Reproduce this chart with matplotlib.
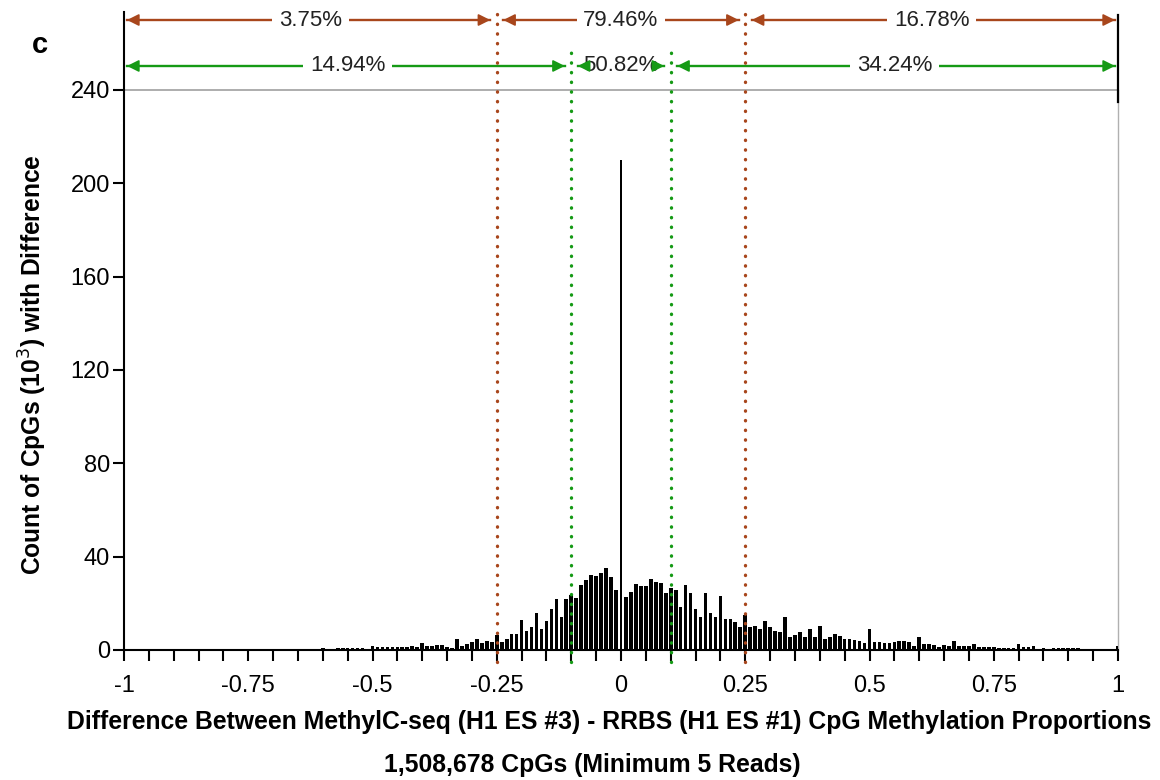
import numpy as np
import matplotlib
matplotlib.use("Agg")
import matplotlib.pyplot as plt

plt.rcParams['font.family'] = ['Liberation Sans', 'DejaVu Sans']

# ---------------- data (counts in thousands, bins centred on multiples of 0.01) -------------
left_tail = [0.3, 0.1, 0.1, 0.1, 0.1, 0.1, 0.1, 0.1, 0.1, 0.1,   # -1.00 .. -0.91
             0.1, 0.1, 0.1, 0.1, 0.1, 0.1, 0.1, 0.1, 0.1, 0.1,   # -0.90 .. -0.81
             0.6, 0.1, 0.1, 0.2, 0.1, 0.2, 0.1, 0.2, 0.2, 0.2,   # -0.80 .. -0.71
             0.2, 0.2, 0.2, 0.5, 0.2, 0.2, 0.2, 0.6, 0.3, 0.3]   # -0.70 .. -0.61
left_mid = [1.0, 0.3, 0.4, 0.9, 0.9, 1.0, 0.9, 1.0, 0.9, 0.6,    # -0.60 .. -0.51
            1.7, 1.2, 1.4, 1.3, 1.4, 1.2, 1.5, 1.3, 1.6, 1.5,    # -0.50 .. -0.41
            3.1, 1.9, 1.8, 2.1, 2.2, 1.4, 1.0, 4.6, 1.7, 2.6,    # -0.40 .. -0.31
            3.4, 4.6, 3.1, 4.0, 3.4, 6.4, 3.5, 4.9, 6.9, 6.9]    # -0.30 .. -0.21
center = [12.8, 8.3, 9.7, 15.7, 9.0, 12.6, 17.7, 22.0, 14.0, 22.0,   # -0.20 .. -0.11
          23.6, 22.1, 28.0, 30.0, 32.3, 31.7, 32.9, 35.1, 31.4, 25.7,  # -0.10 .. -0.01
          210.0,                                                        # 0.00
          22.9, 25.0, 28.1, 27.4, 27.4, 30.3, 29.3, 28.6, 24.3, 26.4,  # 0.01 .. 0.10
          25.7, 18.6, 28.0, 24.3, 17.7, 14.0, 24.3, 15.7, 14.3, 23.1]  # 0.11 .. 0.20
right_mid = [13.3, 13.3, 11.9, 9.7, 14.8, 9.7, 10.3, 8.9, 12.6, 9.7,  # 0.21 .. 0.30
             8.3, 7.6, 14.0, 5.4, 6.6, 7.6, 5.4, 9.0, 5.4, 10.4,      # 0.31 .. 0.40
             4.8, 5.4, 6.9, 6.1, 4.7, 4.6, 4.5, 3.8, 3.1, 9.0,        # 0.41 .. 0.50
             3.6, 3.6, 3.1, 3.2, 3.3, 4.0, 3.8, 3.3, 1.8, 5.4]        # 0.51 .. 0.60
right_tail = [2.7, 2.6, 2.2, 1.5, 2.0, 1.9, 3.8, 1.7, 1.7, 1.7,       # 0.61 .. 0.70
              2.4, 1.4, 1.4, 1.1, 1.1, 1.0, 1.0, 1.0, 0.8, 2.4,       # 0.71 .. 0.80
              1.4, 1.4, 1.7, 0.3, 1.0, 0.5, 1.0, 1.0, 1.0, 1.0,       # 0.81 .. 0.90
              1.0, 1.0, 0.2, 0.2, 0.2, 0.2, 0.2, 0.2, 0.2, 1.7]       # 0.91 .. 1.00

counts = np.array(left_tail + left_mid + center + right_mid + right_tail)
diffs = np.round(np.linspace(-1, 1, len(counts)), 2)

# cut-off regions and their shares
outer_cuts = [-0.25, 0.25]
outer_pct = ["3.75%", "79.46%", "16.78%"]
inner_cuts = [-0.1, 0.1]
inner_pct = ["14.94%", "50.82%", "34.24%"]

x_ticklabels = ["-1", "-0.75", "-0.5", "-0.25", "0", "0.25", "0.5", "0.75", "1"]
y_ticks = [0, 40, 80, 120, 160, 200, 240]

BROWN = '#a8461c'
GREEN = '#159a15'

# ---------------- figure ----------------
W, H = 1160, 780
fig = plt.figure(figsize=(W / 100, H / 100), dpi=100)
ax = fig.add_axes([124 / W, (H - 650) / H, (1118 - 124) / W, 640 / H])
YTOP = 640 / (560 / 240)
ax.set_xlim(-1, 1)
ax.set_ylim(0, YTOP)

widths = np.where(diffs == 0, 0.0025, 0.0074)
ax.bar(diffs, counts, width=widths, color='black', edgecolor='none', zorder=3)

# reference line at 240 and right border
ax.axhline(240, color='#a0a0a0', lw=1.2, zorder=1)
ax.plot([1, 1], [0, 240], color='#b0b0b0', lw=1.0, zorder=1, clip_on=False)
ax.plot([1, 1], [235, YTOP - 2], color='black', lw=1.6, zorder=2, clip_on=False)

for s in ['top', 'right']:
    ax.spines[s].set_visible(False)
for s in ['left', 'bottom']:
    ax.spines[s].set_linewidth(1.5)
    ax.spines[s].set_color('black')
ax.spines['left'].set_bounds(0, YTOP - 1)

ax.set_xticks(np.linspace(-1, 1, 41), minor=True)
ax.set_xticks(np.linspace(-1, 1, 9))
ax.set_xticklabels(x_ticklabels)
ax.set_yticks(y_ticks)
ax.tick_params(axis='x', which='both', direction='out', length=8, width=1.5,
               labelsize=17, pad=10)
ax.tick_params(axis='y', direction='out', length=8, width=1.5, labelsize=17, pad=2)

# dotted cut-off lines
ylo = -5
for c in outer_cuts:
    ax.plot([c, c], [ylo, YTOP - 1], color=BROWN, lw=2.4,
            linestyle=(0, (0.1, 2.8)), dash_capstyle='round', clip_on=False, zorder=6)
for c in inner_cuts:
    ax.plot([c, c], [ylo, 259], color=GREEN, lw=2.4,
            linestyle=(0, (0.1, 2.8)), dash_capstyle='round', clip_on=False, zorder=6)


def span_row(bounds, labels, y, color):
    edges = [-1] + bounds + [1]
    gap = 0.013
    for i, lab in enumerate(labels):
        a = edges[i] + (0.006 if i == 0 else gap)
        b = edges[i + 1] - (0.006 if i == len(labels) - 1 else gap)
        ax.plot([a, b], [y, y], color=color, lw=1.7, clip_on=False, zorder=4)
        for tip, d in ((a, 1), (b, -1)):
            ax.annotate('', xy=(tip, y), xytext=(tip + d * 0.02, y),
                        arrowprops=dict(arrowstyle='-|>', color=color, lw=1.2,
                                        mutation_scale=18, shrinkA=0, shrinkB=0),
                        annotation_clip=False, zorder=7)
        ax.text((edges[i] + edges[i + 1]) / 2, y, lab, ha='center', va='center',
                fontsize=16, color='#222222', zorder=5, clip_on=False,
                bbox=dict(boxstyle='square,pad=0.3' if (b - a) > 0.3 else 'square,pad=0.02',
                          fc='white', ec='none'))


span_row(outer_cuts, outer_pct, 270, BROWN)
span_row(inner_cuts, inner_pct, 250.3, GREEN)

# labels
fig.text(33 / W, 1 - 365 / H, 'Count of CpGs (10$^3$) with Difference', rotation=90,
         ha='center', va='center', fontsize=17.7, fontweight='bold')
fig.text(609 / W, 1 - 722 / H,
         'Difference Between MethylC-seq (H1 ES #3) - RRBS (H1 ES #1) CpG Methylation Proportions',
         ha='center', va='center', fontsize=17.8, fontweight='bold')
fig.text(592 / W, 1 - 765 / H, '1,508,678 CpGs (Minimum 5 Reads)',
         ha='center', va='center', fontsize=17.8, fontweight='bold')
fig.text(40 / W, 1 - 45 / H, 'c', ha='center', va='center', fontsize=21, fontweight='bold')

fig.savefig('out.png', dpi=100)
